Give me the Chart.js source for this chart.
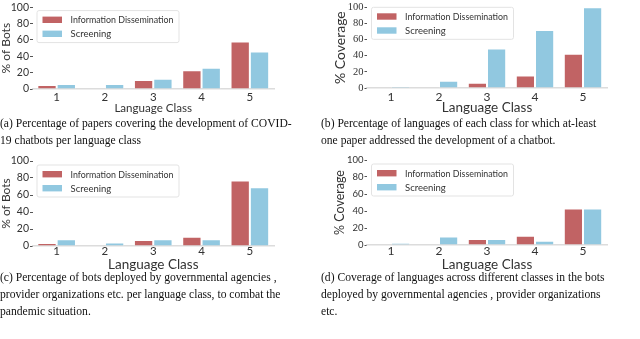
<!DOCTYPE html>
<html lang="en">
<head>
<meta charset="UTF-8">
<title>Language class charts</title>
<script src="https://cdn.jsdelivr.net/npm/chart.js@4.4.0/dist/chart.umd.min.js"></script>
<style>
    body { margin: 0; background: #fff; width: 640px; height: 339px; position: relative; overflow: hidden; }
    .plot { position: absolute; }
    .caption { position: absolute; font-family: "Liberation Serif", "DejaVu Serif", serif; font-size: 11.6px; line-height: 17px; color: #111; white-space: nowrap; }
</style>
</head>
<body>
    <div class="plot" style="left:0;top:0"><canvas id="chartA" width="320" height="118"></canvas></div>
    <div class="plot" style="left:320px;top:0"><canvas id="chartB" width="320" height="118"></canvas></div>
    <div class="plot" style="left:0;top:150px"><canvas id="chartC" width="320" height="125"></canvas></div>
    <div class="plot" style="left:320px;top:150px"><canvas id="chartD" width="320" height="125"></canvas></div>

    <div class="caption" style="left:0;top:115px">(a) Percentage of papers covering the development of COVID-<br>19 chatbots per language class</div>
    <div class="caption" style="left:321px;top:115px">(b) Percentage of languages of each class for which at-least<br>one paper addressed the development of a chatbot.</div>
    <div class="caption" style="left:0;top:269px">(c) Percentage of bots deployed by governmental agencies ,<br>provider organizations etc. per language class, to combat the<br>pandemic situation.</div>
    <div class="caption" style="left:321px;top:269px">(d) Coverage of languages across different classes in the bots<br>deployed by governmental agencies , provider organizations<br>etc.</div>

<script>
    const languageClasses = ['1', '2', '3', '4', '5'];
    const seriesNames = ['Information Dissemination', 'Screening'];
    const yTicks = [0, 20, 40, 60, 80, 100];

    // (a) % of papers
    const papersInfo = [5, 0, 11, 23, 58];
    const papersScreening = [6, 6, 12.5, 26, 46];
    // (b) % coverage from papers
    const papersCoverageInfo = [0, 0, 6.5, 15.5, 42.5];
    const papersCoverageScreening = [2, 9, 49, 72, 100];
    // (c) % of deployed bots
    const deployedInfo = [3.5, 0, 7, 11, 77];
    const deployedScreening = [8, 4, 8, 8, 69];
    // (d) % coverage from deployed bots
    const deployedCoverageInfo = [0, 0, 7, 11, 43];
    const deployedCoverageScreening = [2.5, 10, 7, 5, 43];

    const red = 'rgb(193, 99, 100)';
    const blue = 'rgb(145, 200, 224)';
    const sansFont = "Lato, 'Open Sans', sans-serif";

    // legend drawn inside the plot area, upper left
    const insideLegend = {
        id: 'insideLegend',
        afterDraw(chart, args, opts) {
            const ctx = chart.ctx;
            const area = chart.chartArea;
            const x = area.left + 4.5;
            const y = area.top + opts.offset;
            const textW = 103;
            ctx.save();
            ctx.font = '9.5px ' + sansFont;
            ctx.fillStyle = 'rgba(255,255,255,0.85)';
            ctx.strokeStyle = '#e3e3e3';
            ctx.lineWidth = 1;
            ctx.beginPath();
            ctx.roundRect(x, y, 34 + textW + 5, 32, 2);
            ctx.fill();
            ctx.stroke();
            chart.data.datasets.forEach((ds, i) => {
                const cy = y + 9.2 + i * 14;
                ctx.fillStyle = ds.backgroundColor;
                ctx.fillRect(x + 5.5, cy - 3.2, 19.5, 6.4);
                ctx.fillStyle = '#333';
                ctx.textBaseline = 'middle';
                ctx.fillText(ds.label, x + 33.5, cy + 0.5, textW);
            });
            ctx.restore();
        }
    };

    function createChart(id, yTitle, infoData, screeningData, cfg) {
        const ctx = document.getElementById(id).getContext('2d');
        return new Chart(ctx, {
            type: 'bar',
            data: {
                labels: languageClasses,
                datasets: [{
                    label: seriesNames[0],
                    data: infoData,
                    backgroundColor: red,
                    borderColor: 'rgba(255,255,255,0.55)',
                    borderWidth: 1
                }, {
                    label: seriesNames[1],
                    data: screeningData,
                    backgroundColor: blue,
                    borderColor: 'rgba(255,255,255,0.55)',
                    borderWidth: 1
                }]
            },
            options: {
                responsive: false,
                animation: false,
                layout: { padding: { left: 0, right: cfg.padRight, top: cfg.padTop, bottom: 0 } },
                plugins: {
                    legend: { display: false },
                    tooltip: { enabled: false },
                    insideLegend: { offset: cfg.legendOffset }
                },
                datasets: { bar: { barPercentage: 1, categoryPercentage: 0.8 } },
                scales: {
                    x: {
                        grid: { display: false, drawTicks: false },
                        border: { display: true, color: '#dcdcdc', width: 1.5 },
                        ticks: { color: '#333', padding: cfg.xTickPad, font: { family: sansFont, size: cfg.xTickSize, lineHeight: 1 } },
                        title: {
                            display: true, text: 'Language Class', color: '#333',
                            padding: { top: 0, bottom: cfg.xTitlePad },
                            font: { family: sansFont, size: cfg.xTitleSize }
                        },
                        afterFit(scale) { scale.height = cfg.xHeight; }
                    },
                    y: {
                        min: 0,
                        max: 100,
                        afterBuildTicks(scale) { scale.ticks = yTicks.map(v => ({ value: v })); },
                        grid: { display: true, drawOnChartArea: false, tickLength: 2.5, color: '#555' },
                        border: { display: false },
                        ticks: { color: '#333', padding: 1, font: cfg.yTickFont },
                        title: {
                            display: true, text: yTitle, color: '#333',
                            padding: { top: cfg.yTitlePad, bottom: 0 },
                            font: { family: sansFont, size: cfg.yTitleSize, lineHeight: 1 }
                        },
                        afterFit(scale) { scale.width = cfg.yWidth; }
                    }
                }
            },
            plugins: [insideLegend]
        });
    }

    createChart('chartA', '% of Bots', papersInfo, papersScreening, {
        padTop: 5, padRight: 46, yWidth: 32.5, xHeight: 29,
        xTickSize: 11.5, xTickPad: 2.3, xTitleSize: 11.6, xTitlePad: 3,
        yTitleSize: 12, yTitlePad: 0, yTickFont: { family: sansFont, size: 10.5 }, legendOffset: 3.3
    });
    createChart('chartB', '% Coverage', papersCoverageInfo, papersCoverageScreening, {
        padTop: 7, padRight: 33, yWidth: 47, xHeight: 30,
        xTickSize: 12, xTickPad: 3.5, xTitleSize: 13.5, xTitlePad: 2,
        yTitleSize: 14, yTitlePad: 13, yTickFont: { family: "'Liberation Serif', serif", size: 10.5 }, legendOffset: 0
    });
    createChart('chartC', '% of Bots', deployedInfo, deployedScreening, {
        padTop: 11, padRight: 46, yWidth: 32.5, xHeight: 29,
        xTickSize: 11.5, xTickPad: 0, xTitleSize: 13.5, xTitlePad: 2.4,
        yTitleSize: 12, yTitlePad: 0, yTickFont: { family: sansFont, size: 10.5 }, legendOffset: 4
    });
    createChart('chartD', '% Coverage', deployedCoverageInfo, deployedCoverageScreening, {
        padTop: 10, padRight: 33, yWidth: 47, xHeight: 30,
        xTickSize: 12, xTickPad: 0, xTitleSize: 13.5, xTitlePad: 2.4,
        yTitleSize: 12.5, yTitlePad: 13.7, yTickFont: { family: sansFont, size: 9.5 }, legendOffset: 4
    });
</script>
</body>
</html>
